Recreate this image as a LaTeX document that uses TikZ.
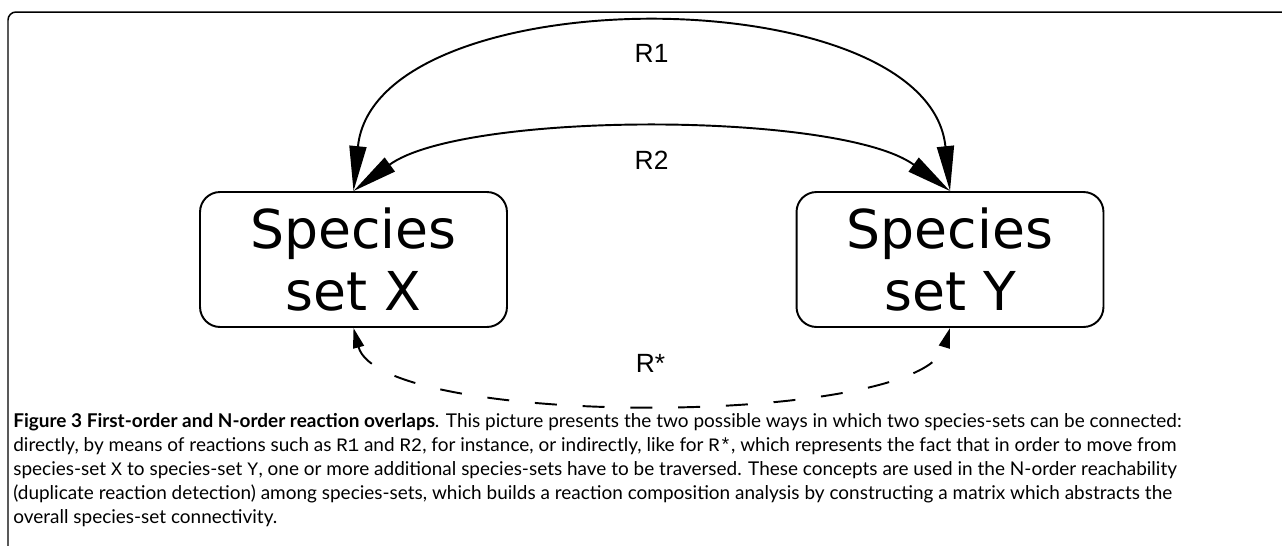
\documentclass[tikz,border=0pt]{standalone}
\usepackage{fontspec}
\setmainfont{Lato}
\setmonofont{Liberation Mono}
\newfontfamily\boxfont{DejaVu Sans}
\newfontfamily\labfont{Liberation Sans}
\usetikzlibrary{arrows.meta}
\tikzset{
  species/.style={draw, line width=1.1pt, rounded corners=0.4cm, minimum width=6.14cm,
    minimum height=2.7cm, align=center, inner sep=0pt,
    font=\boxfont\fontsize{30.5}{35.7}\selectfont},
  reac/.style={line width=1.1pt,
    {Triangle[length=0.9cm,width=0.34cm]}-{Triangle[length=0.9cm,width=0.34cm]}},
  indirect/.style={line width=1.1pt, dash pattern=on 12.5pt off 14.7pt,
    {Triangle[length=0.4cm,width=0.22cm]}-{Triangle[length=0.4cm,width=0.22cm]}},
  rlabel/.style={inner sep=0pt, font=\labfont\fontsize{15}{18}\selectfont},
  caption/.style={anchor=north west, inner sep=0pt, align=left,
    font=\fontsize{10.8}{13.6}\selectfont}
}
\begin{document}
\begin{tikzpicture}[x=0.02cm,y=-0.02cm]
  \useasboundingbox (0,0) rectangle (1282,545);
  \draw[line width=0.85pt, rounded corners=0.16cm] (1290,12) -- (8,12) -- (8,550);
  \node[species] (setx) at (353.5,259.5) {Species\\set X};
  \node[species] (sety) at (950,259.5) {Species\\set Y};
  \draw[reac] (setx.north) .. controls (375,-24) and (928,-24) .. (sety.north)
    node[rlabel, midway, below=7.5pt] (r1) {R1};
  \draw[reac] (setx.north) .. controls (463,111) and (840,111) .. (sety.north)
    node[rlabel, midway, below=11pt] (r2) {R2};
  \draw[indirect] (setx.south) .. controls (380,428) and (920,428) .. (sety.south)
    node[rlabel, midway, above=17pt] (rstar) {R*};
  \node[caption] (cap) at (13,413) {\textbf{Figure 3 First-order and N-order reaction overlaps}. This picture presents the two possible ways in which two species-sets can be connected:\\
directly, by means of reactions such as \texttt{R1} and \texttt{R2}, for instance, or indirectly, like for \texttt{R*}, which represents the fact that in order to move from\\
species-set \texttt{X} to species-set \texttt{Y}, one or more additional species-sets have to be traversed. These concepts are used in the N-order reachability\\
(duplicate reaction detection) among species-sets, which builds a reaction composition analysis by constructing a matrix which abstracts the\\
overall species-set connectivity.};
\end{tikzpicture}
\end{document}
